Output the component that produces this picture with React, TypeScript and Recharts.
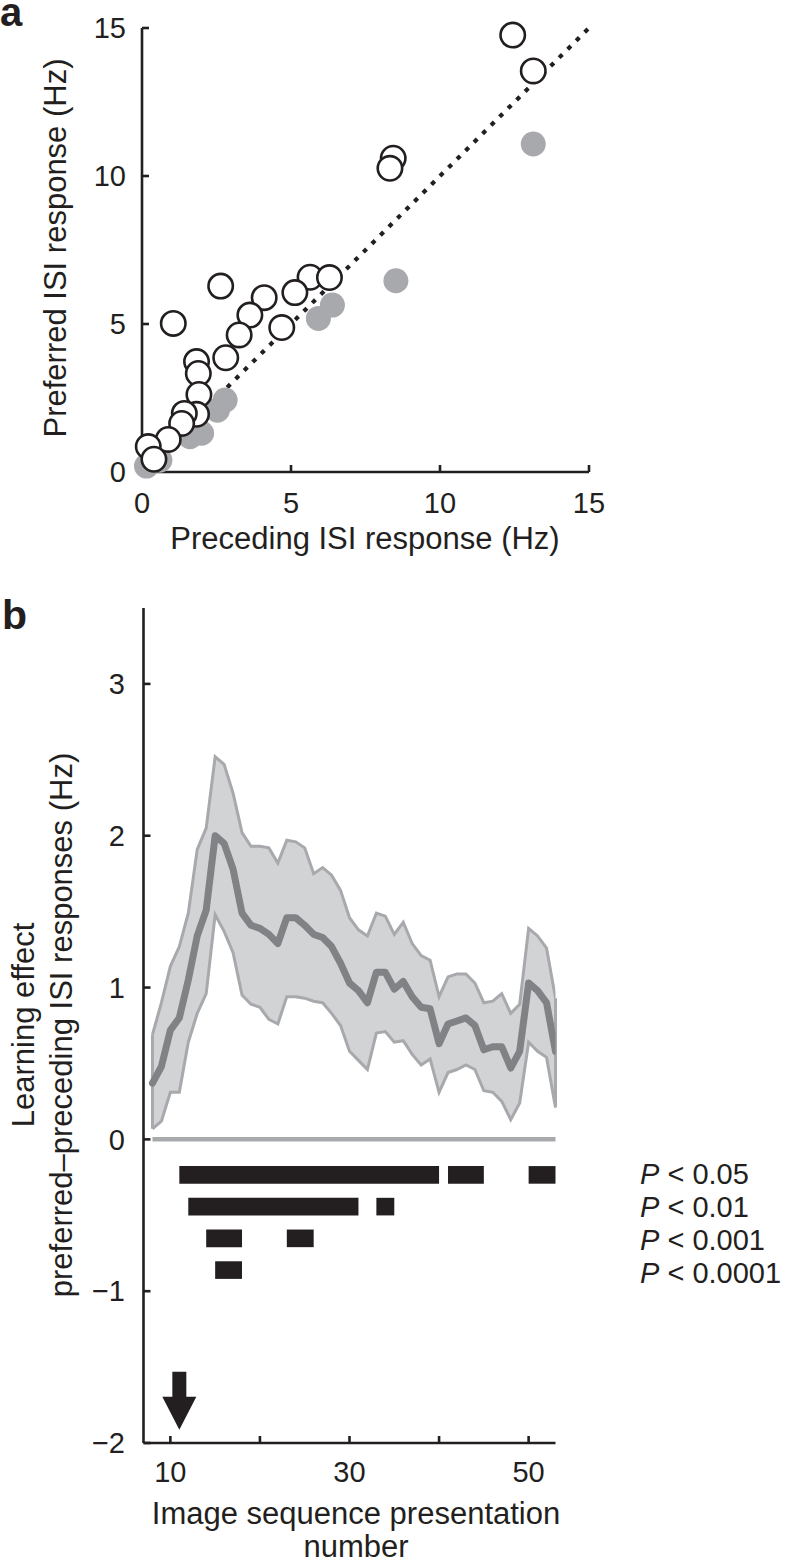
import React from 'react';
import {
  ScatterChart,
  Scatter,
  ComposedChart,
  Area,
  Line,
  XAxis,
  YAxis,
  ReferenceArea,
  ReferenceLine,
  ReferenceDot,
} from 'recharts';

const FONT = '"Liberation Sans", Arial, Helvetica, sans-serif';
const INK = '#231f20';
const GRAY = '#a7a9ac';
const LIGHT = '#d1d3d4';
const DARK = '#808285';

// ---- panel a: preferred vs preceding ISI response (Hz)
const openX = [12.44, 13.13, 8.43, 8.32, 2.64, 1.05, 5.64, 6.29, 5.13, 4.1, 3.62, 3.26, 4.69, 2.81, 1.83, 1.89, 1.91, 1.83, 1.42, 1.33, 0.88, 0.21, 0.4];
const openY = [14.76, 13.55, 10.6, 10.26, 6.28, 5.02, 6.58, 6.57, 6.06, 5.89, 5.3, 4.63, 4.88, 3.86, 3.73, 3.33, 2.62, 1.95, 1.98, 1.64, 1.1, 0.86, 0.43];
const grayX = [13.13, 8.52, 6.39, 5.92, 2.79, 2.53, 2.0, 1.61, 0.6, 0.15];
const grayY = [11.08, 6.46, 5.64, 5.19, 2.43, 2.09, 1.31, 1.19, 0.4, 0.2];
const unity = [0, 15];
const ticksA = [0, 5, 10, 15];

// ---- panel b: learning effect per presentation
const presentation = [8, 9, 10, 11, 12, 13, 14, 15, 16, 17, 18, 19, 20, 21, 22, 23, 24, 25, 26, 27, 28, 29, 30, 31, 32, 33, 34, 35, 36, 37, 38, 39, 40, 41, 42, 43, 44, 45, 46, 47, 48, 49, 50, 51, 52, 53];
const meanEffect = [0.37, 0.48, 0.72, 0.8, 1.05, 1.34, 1.51, 2.0, 1.95, 1.78, 1.49, 1.41, 1.39, 1.35, 1.29, 1.46, 1.46, 1.41, 1.35, 1.33, 1.27, 1.16, 1.03, 0.98, 0.9, 1.1, 1.1, 0.99, 1.04, 0.94, 0.87, 0.86, 0.63, 0.76, 0.78, 0.8, 0.75, 0.59, 0.61, 0.61, 0.47, 0.58, 1.03, 0.98, 0.9, 0.58];
const upperBound = [0.69, 0.9, 1.14, 1.27, 1.49, 1.91, 2.05, 2.52, 2.47, 2.28, 2.02, 1.93, 1.93, 1.92, 1.82, 1.97, 1.96, 1.92, 1.75, 1.79, 1.74, 1.64, 1.46, 1.38, 1.34, 1.49, 1.47, 1.35, 1.43, 1.29, 1.21, 1.18, 0.94, 1.07, 1.09, 1.09, 1.03, 0.9, 0.91, 0.96, 0.83, 0.89, 1.39, 1.34, 1.26, 0.93];
const lowerBound = [0.07, 0.12, 0.31, 0.31, 0.64, 0.83, 0.96, 1.48, 1.37, 1.23, 0.95, 0.89, 0.87, 0.79, 0.76, 0.94, 0.94, 0.93, 0.91, 0.9, 0.83, 0.75, 0.58, 0.52, 0.46, 0.7, 0.71, 0.64, 0.65, 0.56, 0.49, 0.53, 0.31, 0.44, 0.46, 0.49, 0.46, 0.32, 0.31, 0.25, 0.13, 0.24, 0.64, 0.58, 0.54, 0.21];

// significant runs (start, end presentation) per threshold
const sigLevels = ['0.05', '0.01', '0.001', '0.0001'];
const sigRuns = [
  [[11, 40], [41, 45], [50, 53]],
  [[12, 31], [33, 35]],
  [[14, 18], [23, 26]],
  [[15, 18]],
];
const cuePresentation = 11;
const ticksBx = [10, 20, 30, 40, 50];
const ticksBy = [-2, -1, 0, 1, 2, 3];

const scatterOpen = openX.map((x, i) => ({ x, y: openY[i] }));
const scatterGray = grayX.map((x, i) => ({ x, y: grayY[i] }));
const unityData = unity.map(v => ({ x: v, y: v }));

const rowsB = presentation.map((x, i) => ({
  x,
  mean: meanEffect[i],
  band: [lowerBound[i], upperBound[i]],
}));

const tickStyle = { fontSize: 29, fill: INK, fontFamily: FONT };
const axisStyle = { stroke: INK, strokeWidth: 2.6 };

const OpenDot = (p: any) => (
  <circle cx={p.cx} cy={p.cy} r={12.2} fill="#fff" stroke={INK} strokeWidth={2.6} />
);
const GrayDot = (p: any) => <circle cx={p.cx} cy={p.cy} r={12.5} fill={GRAY} />;
const NoDot = () => null;

const CueArrow = (p: any) => {
  const { cx, cy } = p;
  const d = `M${cx - 7},${cy} L${cx + 7},${cy} L${cx + 7},${cy + 25} L${cx + 17},${cy + 25} L${cx},${cy + 58} L${cx - 17},${cy + 25} L${cx - 7},${cy + 25} Z`;
  return <path d={d} fill={INK} />;
};

const minus = (v: number) => (v < 0 ? `\u2212${Math.abs(v)}` : `${v}`);

function PanelA() {
  return (
    <ScatterChart width={620} height={580} margin={{ top: 28, right: 31, left: 0, bottom: 0 }}>
      <XAxis
        type="number"
        dataKey="x"
        domain={[0, 15]}
        ticks={ticksA}
        interval={0}
        height={108}
        tickSize={-7}
        tickMargin={27}
        tick={tickStyle}
        axisLine={axisStyle}
        tickLine={axisStyle}
      />
      <YAxis
        type="number"
        dataKey="y"
        domain={[0, 15]}
        ticks={ticksA}
        interval={0}
        width={142}
        tickSize={-7}
        tickMargin={23}
        tick={tickStyle}
        axisLine={axisStyle}
        tickLine={axisStyle}
      />
      <Scatter
        data={unityData}
        line={{ stroke: INK, strokeWidth: 4.2, strokeDasharray: '4.5 7.5' }}
        shape={NoDot}
        isAnimationActive={false}
      />
      <Scatter data={scatterGray} shape={GrayDot} isAnimationActive={false} />
      <Scatter data={scatterOpen} shape={OpenDot} isAnimationActive={false} />
    </ScatterChart>
  );
}

function PanelB() {
  const first = presentation[0];
  const last = presentation[presentation.length - 1];
  const n = presentation.length - 1;
  return (
    <ComposedChart width={620} height={940} data={rowsB} margin={{ top: 48, right: 64.5, left: 0, bottom: 0 }}>
      <XAxis
        type="number"
        dataKey="x"
        domain={[7, 53]}
        ticks={ticksBx}
        interval={0}
        height={57}
        tickSize={-7}
        tickMargin={25}
        tick={tickStyle}
        tickFormatter={(v: number) => (v === 20 || v === 40 ? '' : `${v}`)}
        axisLine={axisStyle}
        tickLine={axisStyle}
        allowDataOverflow
      />
      <YAxis
        type="number"
        domain={[-2, 3.5]}
        ticks={ticksBy}
        interval={0}
        width={143.5}
        tickSize={-7}
        tickMargin={25.5}
        tick={tickStyle}
        tickFormatter={minus}
        axisLine={axisStyle}
        tickLine={axisStyle}
        allowDataOverflow
      />
      <Area
        type="linear"
        dataKey="band"
        fill={LIGHT}
        fillOpacity={1}
        stroke={GRAY}
        strokeWidth={3}
        isAnimationActive={false}
      />
      <ReferenceLine
        segment={[{ x: first, y: lowerBound[0] }, { x: first, y: upperBound[0] }]}
        stroke={GRAY}
        strokeWidth={3}
      />
      <ReferenceLine
        segment={[{ x: last, y: lowerBound[n] }, { x: last, y: upperBound[n] }]}
        stroke={GRAY}
        strokeWidth={3}
      />
      <Line
        type="linear"
        dataKey="mean"
        stroke={DARK}
        strokeWidth={7}
        dot={false}
        strokeLinejoin="round"
        strokeLinecap="round"
        isAnimationActive={false}
      />
      <ReferenceLine segment={[{ x: first, y: 0 }, { x: last, y: 0 }]} stroke={GRAY} strokeWidth={4.5} />
      {sigRuns.map((runs, row) => {
        const level = -0.234 - row * 0.209;
        return runs.map(([a, b], k) => (
          <ReferenceArea
            key={`${row}-${k}`}
            x1={a}
            x2={b}
            y1={level - 0.058}
            y2={level + 0.058}
            fill={INK}
            fillOpacity={1}
            stroke="none"
          />
        ));
      })}
      <ReferenceDot x={cuePresentation} y={-1.53} shape={CueArrow} />
    </ComposedChart>
  );
}

export default function App() {
  return (
    <div style={{ position: 'absolute', left: 0, top: 0, width: 786, height: 1565, background: '#fff' }}>
      <div style={{ position: 'absolute', left: 0, top: 0 }}>
        <PanelA />
      </div>
      <div style={{ position: 'absolute', left: 0, top: 560 }}>
        <PanelB />
      </div>
      <svg
        width={786}
        height={1565}
        style={{ position: 'absolute', left: 0, top: 0, pointerEvents: 'none' }}
        fontFamily={FONT}
        fill={INK}
      >
        <text x={0} y={26} fontSize={40} fontWeight="bold">a</text>
        <text x={2} y={629} fontSize={41} fontWeight="bold">b</text>
        <text transform="translate(66,248) rotate(-90)" textAnchor="middle" fontSize={31}>
          Preferred ISI response (Hz)
        </text>
        <text x={365} y={549} textAnchor="middle" fontSize={31}>
          Preceding ISI response (Hz)
        </text>
        <text transform="translate(34,1025) rotate(-90)" textAnchor="middle" fontSize={31}>
          Learning effect
        </text>
        <text transform="translate(72,1025) rotate(-90)" textAnchor="middle" fontSize={31}>
          preferred–preceding ISI responses (Hz)
        </text>
        <text x={356} y={1524} textAnchor="middle" fontSize={31}>
          Image sequence presentation
        </text>
        <text x={356} y={1557} textAnchor="middle" fontSize={31}>
          number
        </text>
        {sigLevels.map((p, i) => (
          <text key={p} x={640} y={1184 + i * 33} fontSize={29}>
            <tspan fontStyle="italic">P</tspan>
            {` < ${p}`}
          </text>
        ))}
      </svg>
    </div>
  );
}
